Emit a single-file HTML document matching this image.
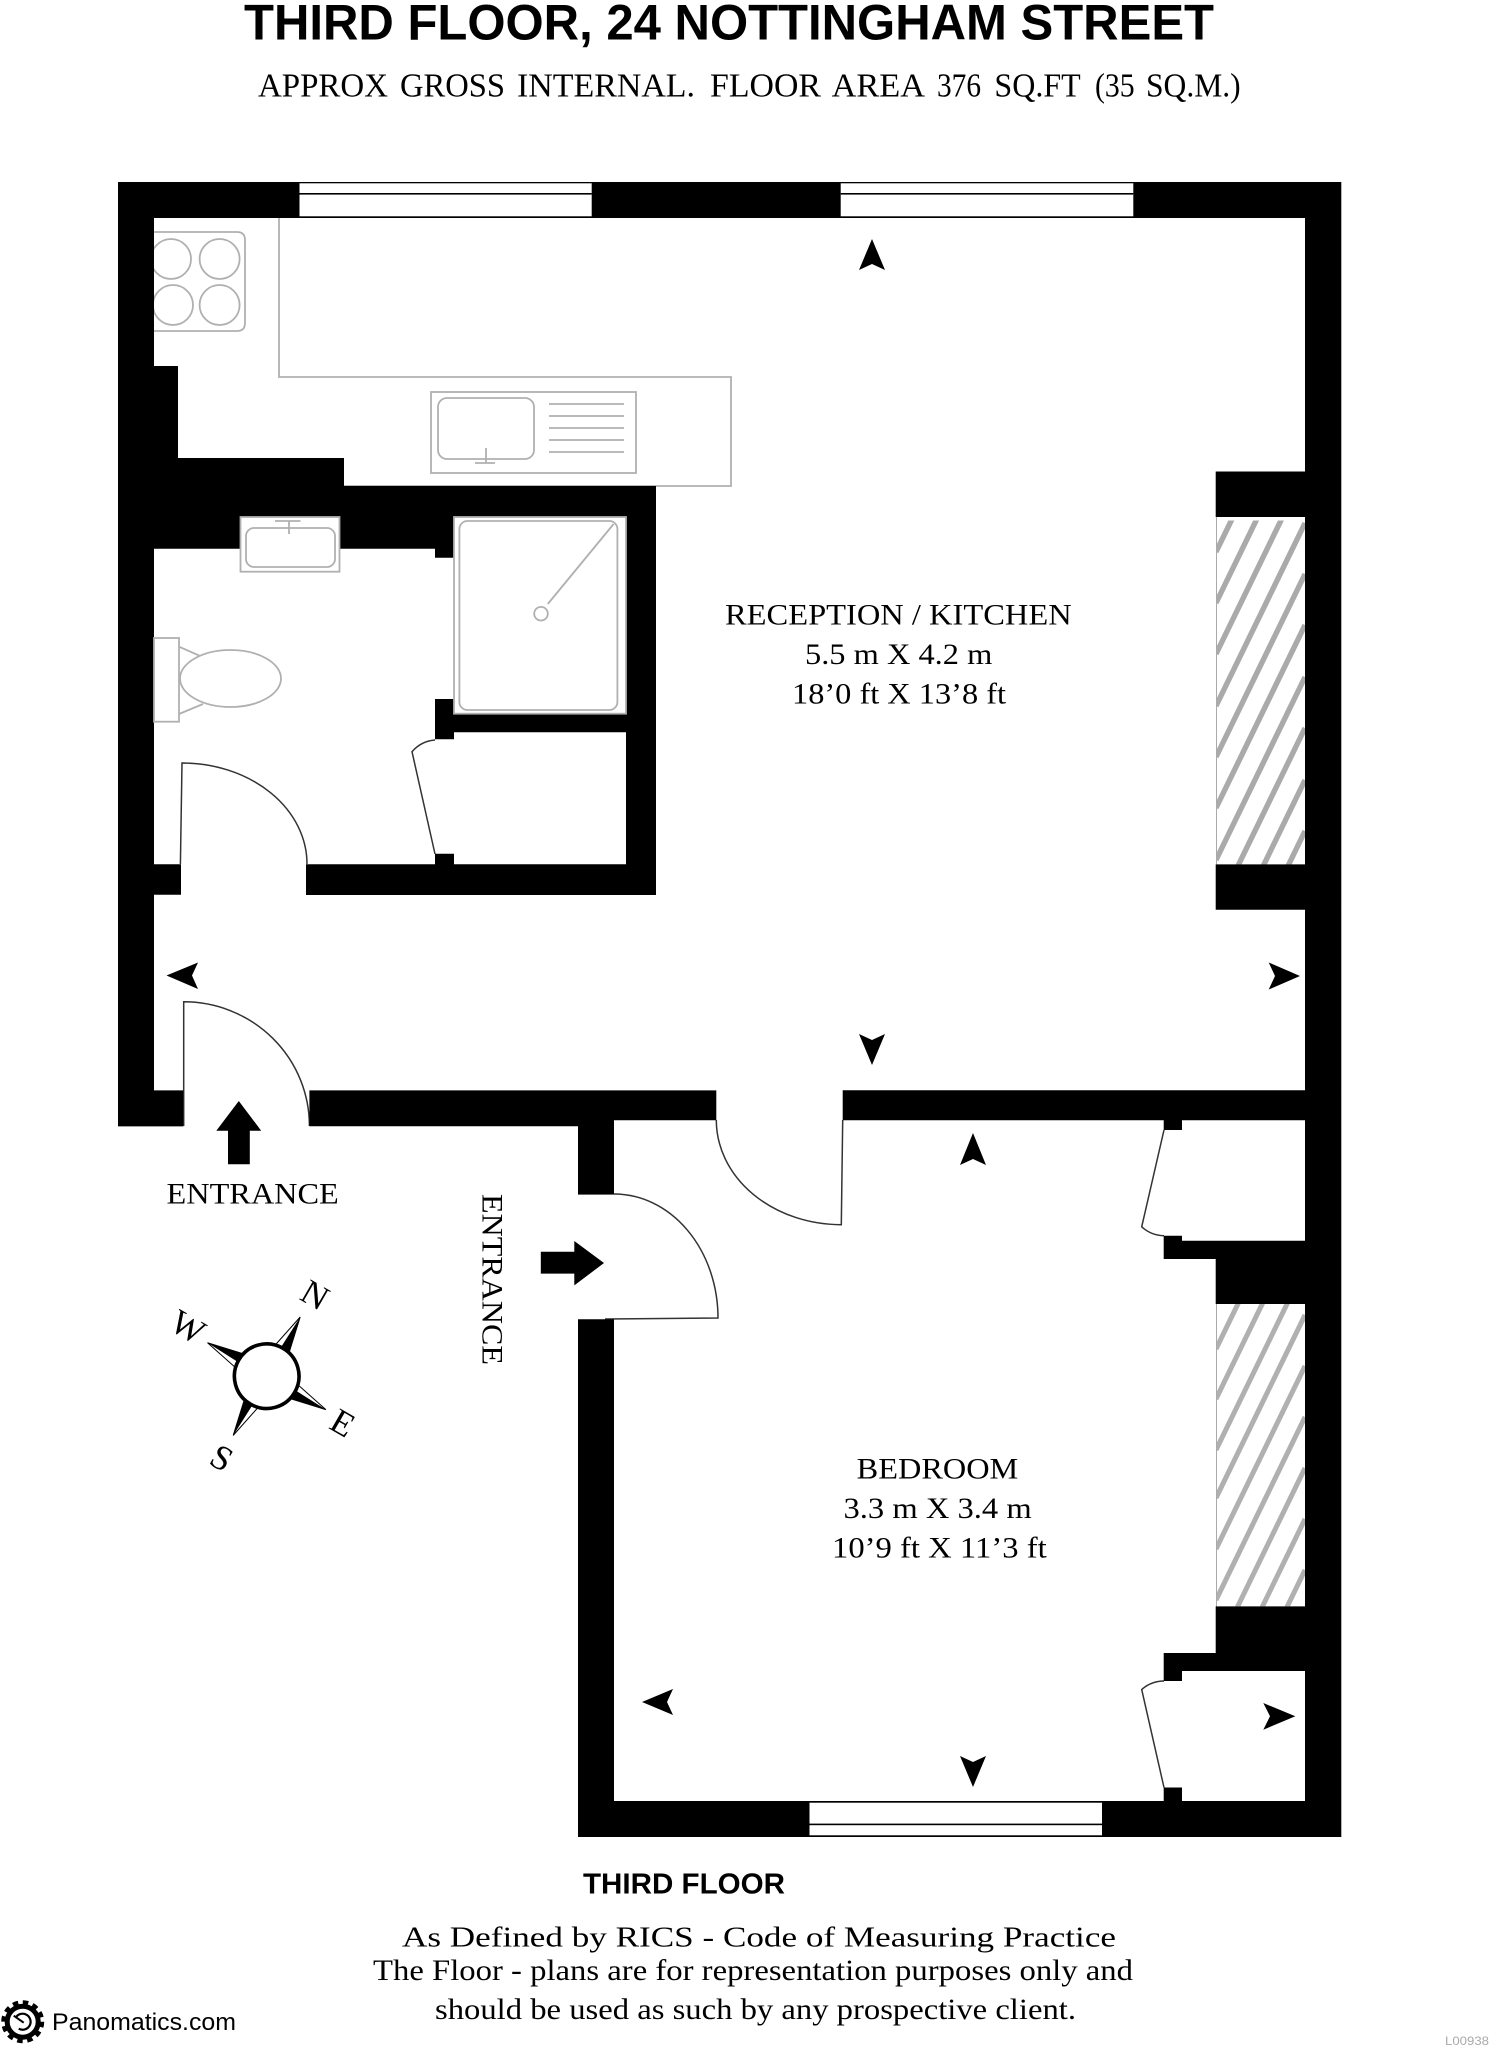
<!DOCTYPE html>
<html lang="en">
<head>
<meta charset="utf-8">
<title>Third Floor, 24 Nottingham Street</title>
<style>
html,body{margin:0;padding:0;background:#fff;width:1493px;height:2048px;overflow:hidden}
svg{display:block}
.s{font-family:"Liberation Serif","Times New Roman",serif;fill:#000}
.a{font-family:"Liberation Sans",Arial,sans-serif;fill:#000}
.b{font-weight:bold}
.g{fill:none;stroke:#b0b0b0;stroke-width:1.8}
.w{fill:#fff;stroke:#b0b0b0;stroke-width:1.8}
.d{fill:none;stroke:#333;stroke-width:1.5}
</style>
</head>
<body>
<svg xmlns="http://www.w3.org/2000/svg" width="1493" height="2048" viewBox="0 0 1493 2048">
<rect width="1493" height="2048" fill="#fff"/>

<!-- Title -->
<text class="a b" x="244" y="39.3" font-size="50" textLength="970" lengthAdjust="spacingAndGlyphs">THIRD FLOOR, 24 NOTTINGHAM STREET</text>
<g class="s" font-size="34" lengthAdjust="spacingAndGlyphs">
<text x="258" y="96.7" textLength="130" lengthAdjust="spacingAndGlyphs">APPROX</text>
<text x="400" y="96.7" textLength="105" lengthAdjust="spacingAndGlyphs">GROSS</text>
<text x="517" y="96.7" textLength="178" lengthAdjust="spacingAndGlyphs">INTERNAL.</text>
<text x="710" y="96.7" textLength="111" lengthAdjust="spacingAndGlyphs">FLOOR</text>
<text x="831.6" y="96.7" textLength="93.4" lengthAdjust="spacingAndGlyphs">AREA</text>
<text x="937" y="96.7" textLength="44" lengthAdjust="spacingAndGlyphs">376</text>
<text x="994.4" y="96.7" textLength="86.3" lengthAdjust="spacingAndGlyphs">SQ.FT</text>
<text x="1095" y="96.7" textLength="39.7" lengthAdjust="spacingAndGlyphs">(35</text>
<text x="1146" y="96.7" textLength="94.7" lengthAdjust="spacingAndGlyphs">SQ.M.)</text>
</g>

<!-- Kitchen counter and fixtures -->
<path class="g" d="M279 218V377H731V486H344"/>
<path class="g" d="M154 232H237Q245 232 245 240V323Q245 331 237 331H154"/>
<clipPath id="hob"><rect x="154" y="225" width="100" height="110"/></clipPath>
<g class="g" clip-path="url(#hob)">
<circle cx="171" cy="259" r="20"/><circle cx="219.6" cy="259" r="20"/>
<circle cx="173" cy="305" r="20"/><circle cx="219.6" cy="305" r="20"/>
</g>
<rect class="g" x="431" y="392" width="205" height="81"/>
<rect class="g" x="438" y="398" width="96" height="61" rx="9"/>
<path class="g" d="M549 404H624M549 416H624M549 428H624M549 440H624M549 452H624M486 448V463M475 463H495"/>

<!-- Hatched chimney breasts -->
<clipPath id="h1"><rect x="1216" y="520.5" width="89" height="344"/></clipPath>
<clipPath id="h2"><rect x="1216" y="1304" width="89" height="302.4"/></clipPath>
<g clip-path="url(#h1)" stroke="#aaa" stroke-width="5.4">
<path d="M1216 552L1305 369M1216 603L1305 420M1216 654L1305 471M1216 706L1305 523M1216 757L1305 574M1216 808L1305 625M1216 860L1305 677M1216 911L1305 728M1216 963L1305 780M1216 1014L1305 831M1216 1065L1305 882" fill="none"/>
</g>
<g clip-path="url(#h2)" stroke="#b0b0b0" stroke-width="5">
<path d="M1216 1349L1305 1166M1216 1399L1305 1216M1216 1450L1305 1267M1216 1498L1305 1315M1216 1549L1305 1366M1216 1600L1305 1417M1216 1651L1305 1468M1216 1702L1305 1519M1216 1753L1305 1570" fill="none"/>
</g>
<path d="M1216.5 517V864.4M1216.5 1304V1606.4" stroke="#aaa" stroke-width="1" fill="none"/>

<!-- Doors -->
<path class="d" d="M180.4 864L182 763A125 101 0 0 1 307 864"/>
<path class="d" d="M435 854L412 751.7A34 34 0 0 1 435 740"/>
<path class="d" d="M183.7 1126V1001.8A125.7 124 0 0 1 309.4 1126"/>
<path class="d" d="M716.3 1120A125 104.7 0 0 0 841.3 1224.7L842.7 1120"/>
<path class="d" d="M578 1194H614A104 124 0 0 1 718 1318L605 1319"/>
<path class="d" d="M1164 1130L1141.7 1226.8A34 34 0 0 0 1164 1235.7"/>
<path class="d" d="M1164 1787.5L1141.7 1689.5A34 34 0 0 1 1164 1681"/>

<!-- Walls -->
<path fill="#000" d="
M118 182H1341.3V1837H578V1319.3H614V1801H1163.7V1787.5H1182V1801H1305V1671H1182V1681H1163.7V1653H1215.7V1606.4H1305V1304H1215.7V1259H1163.7V1235.7H1182V1240.7H1305V1120.3H1182V1130H1163.7V1120.3H842.7V1090.3H1305V909.8H1215.7V864.4H1305V517H1215.7V471.5H1305V218H154V366H178V458H344V486H656V895H306V864.3H435V853.7H454V864.3H626V732.3H454V739.3H435V699H454V713.7H626V517H454V557.7H435V548.7H154V864.3H181V894.7H154V1090.4H183.3V1126.4H118Z
M309.4 1090.4H716.3V1120.3H614V1194H578V1126.3H309.4Z"/>

<!-- Windows -->
<g fill="#fff">
<rect x="299.5" y="183.3" width="292.2" height="33"/>
<rect x="840.7" y="183.3" width="292.6" height="33"/>
<rect x="809.5" y="1802.7" width="292.5" height="32.6"/>
</g>
<g fill="#000">
<rect x="299.5" y="193" width="292.2" height="1.6"/>
<rect x="840.7" y="193" width="292.6" height="1.6"/>
<rect x="809.5" y="1823.6" width="292.5" height="1.6"/>
</g>

<!-- Bathroom fixtures -->
<rect class="w" x="240.5" y="517" width="99" height="54.7"/>
<rect class="g" x="246" y="528" width="89" height="39" rx="8"/>
<path class="g" d="M289 521V534M275 521H300.5"/>
<rect class="w" x="454" y="517" width="172" height="196.7"/>
<rect class="g" x="459.4" y="521" width="158" height="189" rx="8"/>
<path class="g" d="M613.6 524L547.8 604"/>
<circle class="g" cx="541" cy="613.7" r="6.8"/>
<rect class="w" x="154" y="638" width="25" height="83.7"/>
<path class="g" d="M179 646.7L199.5 655.7M179 714L203 704"/>
<ellipse class="w" cx="230.5" cy="678.5" rx="50.5" ry="28.5"/>

<!-- Direction markers -->
<g fill="#000">
<polygon points="872,239 885,270 872,264 859,270"/>
<polygon points="872,1065 885,1034 872,1040 859,1034"/>
<polygon points="166.5,975.5 198,962.5 192,975.5 198,989"/>
<polygon points="1300,976 1268.7,962.5 1275,976 1268.7,989.5"/>
<polygon points="973,1133 986,1165 973,1159 960,1165"/>
<polygon points="973,1787 986,1756 973,1762 960,1756"/>
<polygon points="642,1702 673,1689 667,1702 673,1715"/>
<polygon points="1295.3,1716.3 1263.3,1703 1270,1716.3 1263.3,1729.7"/>
<polygon points="238.8,1101 261.2,1130.7 249.8,1130.7 249.8,1164.3 228,1164.3 228,1130.7 216.3,1130.7"/>
<polygon points="604,1263 574.3,1241 574.3,1251.8 540.8,1251.8 540.8,1273.6 574.3,1273.6 574.3,1285.4"/>
</g>

<!-- Entrance labels -->
<text class="s" x="166.5" y="1203.6" font-size="30" textLength="172.3" lengthAdjust="spacingAndGlyphs">ENTRANCE</text>
<text class="s" transform="translate(482.5 1194) rotate(90)" x="0" y="0" font-size="30" textLength="171" lengthAdjust="spacingAndGlyphs">ENTRANCE</text>

<!-- Room labels -->
<text class="s" x="725" y="624.5" font-size="30" textLength="346.7" lengthAdjust="spacingAndGlyphs">RECEPTION / KITCHEN</text>
<text class="s" x="805" y="664" font-size="30" textLength="187.3" lengthAdjust="spacingAndGlyphs">5.5 m X 4.2 m</text>
<text class="s" x="792" y="703.3" font-size="30" textLength="214" lengthAdjust="spacingAndGlyphs">18’0 ft X 13’8 ft</text>
<text class="s" x="856.7" y="1478.3" font-size="30" textLength="161.6" lengthAdjust="spacingAndGlyphs">BEDROOM</text>
<text class="s" x="843.5" y="1518" font-size="30" textLength="188.2" lengthAdjust="spacingAndGlyphs">3.3 m X 3.4 m</text>
<text class="s" x="832" y="1557.3" font-size="30" textLength="214.7" lengthAdjust="spacingAndGlyphs">10’9 ft X 11’3 ft</text>

<!-- Compass -->
<g transform="translate(266.7 1376.2) rotate(29.5)">
<g>
<polygon points="0,-68 -8,-31 8,-31" fill="#fff" stroke="#000" stroke-width="1"/>
<polygon points="0,-68 8,-31 -2,-29" fill="#000"/>
</g>
<g transform="rotate(90)"><polygon points="0,-68 -8,-31 8,-31" fill="#fff" stroke="#000" stroke-width="1"/><polygon points="0,-68 8,-31 -2,-29" fill="#000"/></g>
<g transform="rotate(180)"><polygon points="0,-68 -8,-31 8,-31" fill="#fff" stroke="#000" stroke-width="1"/><polygon points="0,-68 8,-31 -2,-29" fill="#000"/></g>
<g transform="rotate(270)"><polygon points="0,-68 -8,-31 8,-31" fill="#fff" stroke="#000" stroke-width="1"/><polygon points="0,-68 8,-31 -2,-29" fill="#000"/></g>
<circle r="32.3" fill="#fff" stroke="#000" stroke-width="3.6"/>
</g>
<g class="s" font-size="35" text-anchor="middle">
<text transform="translate(315 1295) rotate(30)" y="11.6">N</text>
<text transform="translate(188 1327) rotate(30)" y="11.6">W</text>
<text transform="translate(342.7 1423) rotate(30)" y="11.6">E</text>
<text transform="translate(221.7 1458) rotate(30)" y="11.6">S</text>
</g>

<!-- Footer -->
<text class="a b" x="583" y="1893.3" font-size="29" textLength="202" lengthAdjust="spacingAndGlyphs">THIRD FLOOR</text>
<text class="s" x="402" y="1946.7" font-size="29" textLength="714" lengthAdjust="spacingAndGlyphs">As Defined by RICS - Code of Measuring Practice</text>
<text class="s" x="373" y="1980" font-size="30" textLength="760" lengthAdjust="spacingAndGlyphs">The Floor - plans are for representation purposes only and</text>
<text class="s" x="435" y="2019" font-size="30" textLength="641" lengthAdjust="spacingAndGlyphs">should be used as such by any prospective client.</text>

<!-- Logo -->
<g transform="translate(22.7 2021.7)">
<circle r="19.3" fill="none" stroke="#000" stroke-width="4.4" stroke-dasharray="5.5 4.6"/>
<circle r="15.5" fill="none" stroke="#000" stroke-width="5"/>
<path d="M-7 -4A8 8 0 1 1 -4 7" fill="none" stroke="#000" stroke-width="2.2"/>
<path d="M1 1L-9 -6" stroke="#000" stroke-width="2"/>
</g>
<text class="a" x="52" y="2030" font-size="24" textLength="184" lengthAdjust="spacingAndGlyphs">Panomatics.com</text>
<text class="a" x="1445" y="2045" font-size="11.5" textLength="44" lengthAdjust="spacingAndGlyphs" style="fill:#aaa">L00938</text>
</svg>
</body>
</html>
